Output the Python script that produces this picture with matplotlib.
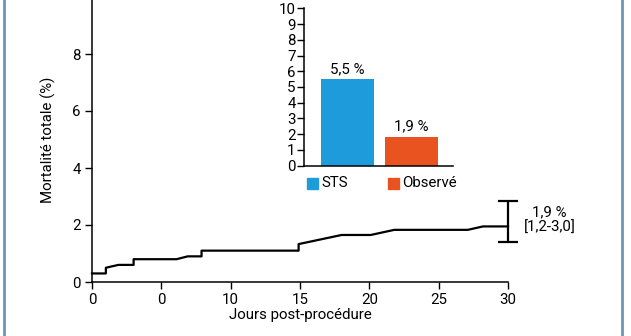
import matplotlib.pyplot as plt
from matplotlib.lines import Line2D

plt.rcParams['font.family'] = ['Roboto', 'DejaVu Sans']

# Courbe de mortalité cumulée (jours, %)
jours = [0, 1, 1, 1.9, 3, 3, 6.1, 6.9, 7.9, 7.9, 14.9, 14.9, 18, 20.1, 21.8, 27.1, 28.2, 30]
mortalite = [0.3, 0.3, 0.5, 0.6, 0.6, 0.8, 0.8, 0.9, 0.9, 1.1, 1.1, 1.33, 1.65, 1.65, 1.83, 1.83, 1.95, 1.95]
ic_bas, ic_haut = 1.4, 2.85
x_ticks = [0, 5, 10, 15, 20, 25, 30]
x_labels = ['0', '0', '10', '15', '20', '25', '30']
y_ticks = [0, 2, 4, 6, 8]

# Encadré STS vs observé
groupes = ['STS', 'Observé']
valeurs = [5.5, 1.85]
etiquettes = ['5,5 %', '1,9 %']
couleurs = ['#1E9BDB', '#E9531F']

W, H = 631, 336
fs = 10.8
fig = plt.figure(figsize=(W / 100, H / 100), dpi=100)

ax = fig.add_axes([92 / W, 54 / H, 416 / W, 285 / H])
ax.plot(jours, mortalite, color='black', lw=1.6, clip_on=False)
ax.errorbar([30], [(ic_bas + ic_haut) / 2], yerr=[[(ic_haut - ic_bas) / 2], [(ic_haut - ic_bas) / 2]],
            color='black', lw=1.6, capsize=7, capthick=1.6, clip_on=False)
ax.text(33, 2.46, '1,9 %', ha='center', va='center', fontsize=fs)
ax.text(33, 1.9, '[1,2-3,0]', ha='center', va='center', fontsize=fs)
ax.set_xlim(0, 30)
ax.set_ylim(0, 10)
ax.set_xticks(x_ticks)
ax.set_xticklabels(x_labels)
ax.set_yticks(y_ticks)
for s in ['top', 'right']:
    ax.spines[s].set_visible(False)
for s in ['left', 'bottom']:
    ax.spines[s].set_linewidth(1.1)
ax.tick_params(labelsize=fs, width=1, length=5, pad=3)
ax.set_xlabel('Jours post-procédure', fontsize=fs, labelpad=1)
ax.set_ylabel('Mortalité totale (%)', fontsize=fs, labelpad=12)

# encadré
ax2 = fig.add_axes([304 / W, 170.3 / H, 149 / W, 157.4 / H])
ax2.bar(range(len(groupes)), valeurs, color=couleurs, width=0.82)
for i, (v, t) in enumerate(zip(valeurs, etiquettes)):
    ax2.text(i, v + 0.2, t, ha='center', va='bottom', fontsize=fs)
ax2.set_xlim(-0.68, 1.65)
ax2.set_ylim(0, 10)
ax2.set_yticks(range(11))
ax2.set_xticks([])
for s in ['top', 'right']:
    ax2.spines[s].set_visible(False)
for s in ['left', 'bottom']:
    ax2.spines[s].set_linewidth(1.1)
ax2.tick_params(labelsize=fs, width=1, length=5, pad=1)

# légende
for x0, nom, c in [(307, groupes[0], couleurs[0]), (388, groupes[1], couleurs[1])]:
    fig.patches.append(plt.Rectangle((x0 / W, (H - 188.5) / H), 11 / W, 11 / H,
                                     color=c, transform=fig.transFigure))
    fig.text((x0 + 14) / W, (H - 183) / H, nom, va='center', fontsize=fs)

# bordures bleues
for xb in [4, 622]:
    fig.add_artist(Line2D([xb / W, xb / W], [0, 1], color='#6A97B8', lw=2))

fig.savefig('out.png', dpi=100)
